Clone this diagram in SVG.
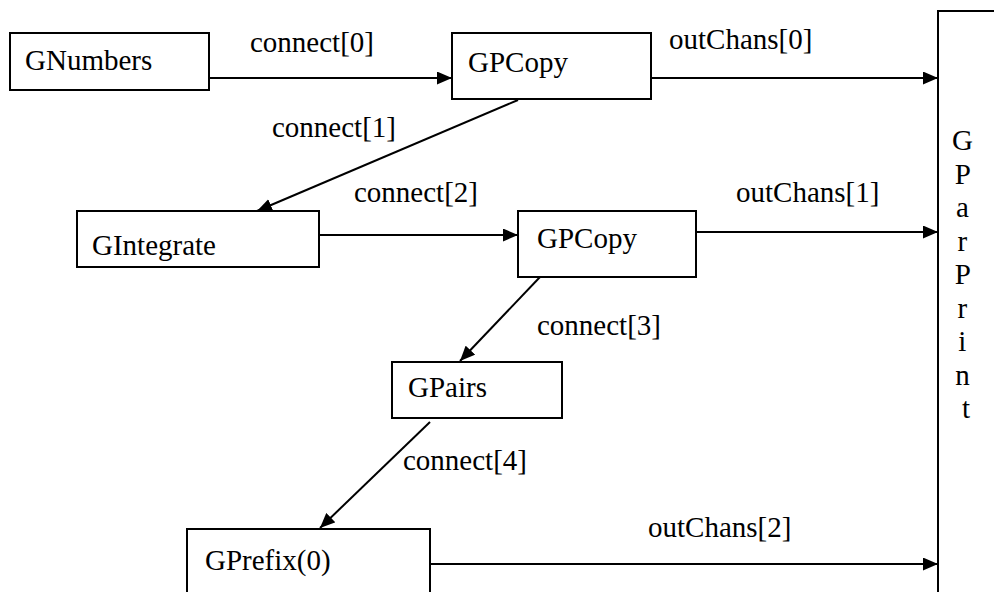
<svg xmlns="http://www.w3.org/2000/svg" width="994" height="592" viewBox="0 0 994 592">
<style>
.box{fill:#fff;stroke:#000;stroke-width:2}
text{font-family:'Liberation Serif','Times New Roman','DejaVu Serif',serif;font-size:29px;fill:#000}
.c{stroke:#000;stroke-width:2;fill:none;marker-end:url(#ah)}
</style>
<defs>
<marker id="ah" markerUnits="userSpaceOnUse" markerWidth="15" markerHeight="13" refX="15" refY="6.5" orient="auto">
<path d="M0,0 L15,6.5 L0,13 z" fill="#000"/>
</marker>
</defs>
<rect width="994" height="592" fill="#fff"/>
<g id="connectors">
<line class="c" x1="209" y1="78" x2="452" y2="78"/>
<line class="c" x1="651" y1="78" x2="938" y2="78"/>
<line class="c" x1="518" y1="100" x2="257" y2="211"/>
<line class="c" x1="319" y1="235" x2="518" y2="235"/>
<line class="c" x1="696" y1="232" x2="938" y2="232"/>
<line class="c" x1="540" y1="277" x2="460" y2="361"/>
<line class="c" x1="430" y1="422" x2="320" y2="528"/>
<line class="c" x1="430" y1="564" x2="938" y2="564"/>
<text x="250" y="52">connect[0]</text>
<text x="669" y="49">outChans[0]</text>
<text x="272" y="137">connect[1]</text>
<text x="354" y="202">connect[2]</text>
<text x="736" y="202">outChans[1]</text>
<text x="537" y="335">connect[3]</text>
<text x="403" y="470">connect[4]</text>
<text x="648" y="537">outChans[2]</text>
</g>
<g id="GNumbers">
<rect class="box" x="10" y="33" width="199" height="57"/>
<text x="25" y="70">GNumbers</text>
</g>
<g id="GPCopy1">
<rect class="box" x="452" y="33" width="199" height="66"/>
<text x="468" y="72">GPCopy</text>
</g>
<g id="GIntegrate">
<rect class="box" x="77" y="211" width="242" height="56"/>
<text x="92" y="255">GIntegrate</text>
</g>
<g id="GPCopy2">
<rect class="box" x="518" y="211" width="178" height="66"/>
<text x="537" y="248">GPCopy</text>
</g>
<g id="GPairs">
<rect class="box" x="392" y="362" width="170" height="56"/>
<text x="408" y="397">GPairs</text>
</g>
<g id="GPrefix">
<rect class="box" x="187" y="529" width="243" height="80"/>
<text x="205" y="570">GPrefix(0)</text>
</g>
<g id="GParPrint">
<rect class="box" x="938" y="11" width="80" height="600"/>
<text text-anchor="middle" x="966">
<tspan x="966" y="150">G</tspan>
<tspan x="966" y="183.5">P</tspan>
<tspan x="966" y="217">a</tspan>
<tspan x="966" y="250.5">r</tspan>
<tspan x="966" y="284">P</tspan>
<tspan x="966" y="317.5">r</tspan>
<tspan x="966" y="351">i</tspan>
<tspan x="966" y="384.5">n</tspan>
<tspan x="966" y="418">t</tspan>
</text>
</g>
</svg>
